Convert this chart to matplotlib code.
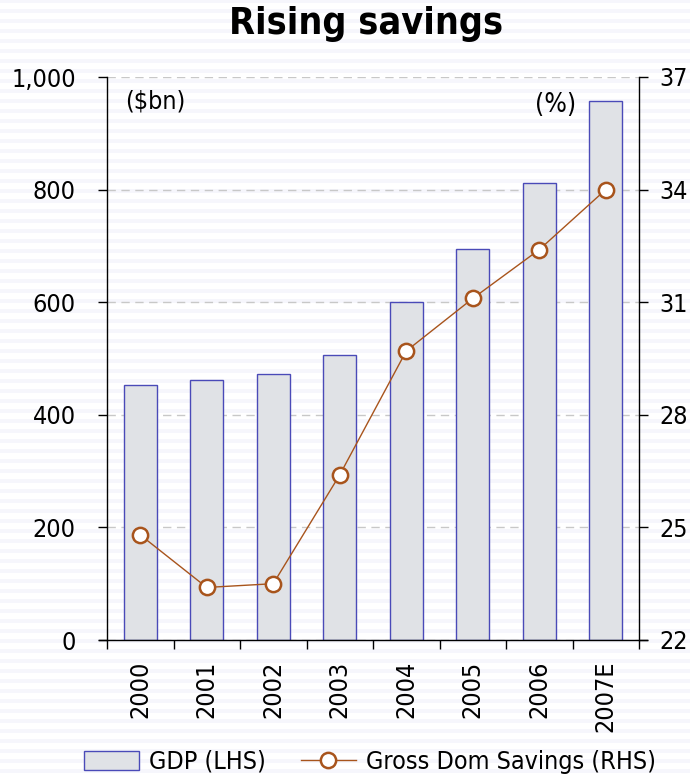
import matplotlib
matplotlib.use("Agg")
import matplotlib.pyplot as plt
import numpy as np
from matplotlib.lines import Line2D
from matplotlib.patches import Patch, Rectangle

plt.rcParams["font.family"] = ["DejaVu Sans"]
plt.rcParams["font.stretch"] = "condensed"

years = ["2000", "2001", "2002", "2003", "2004", "2005", "2006", "2007E"]
gdp = [453, 462, 473, 506, 601, 694, 811, 957]
savings = [24.8, 23.4, 23.5, 26.4, 29.7, 31.1, 32.4, 34.0]
left_ticks = [0, 200, 400, 600, 800, 1000]
right_ticks = [22, 25, 28, 31, 34, 37]

W, H = 690, 776
fig = plt.figure(figsize=(W / 100, H / 100), dpi=100)
fig.patch.set_facecolor("white")

# faint horizontal stripes in the background
for y0 in np.arange(0, H, 10):
    fig.patches.append(Rectangle((0, 1 - (y0 + 3) / H), 1, 4 / H,
                                 transform=fig.transFigure, facecolor="#f6f6fc",
                                 edgecolor="none", zorder=-10))

L, R, T, B = 107, 639, 77, 640
ax = fig.add_axes([L / W, 1 - B / H, (R - L) / W, (B - T) / H])
ax.set_facecolor("none")
x = np.arange(len(years))
ax.bar(x, gdp, width=0.49, color="#e0e2e6", edgecolor="#4a4ab8", linewidth=1.0, zorder=2)
ax.set_xlim(-0.5, len(years) - 0.5)
ax.set_ylim(0, 1000)
ax.set_yticks(left_ticks)
ax.set_yticklabels(["{:,}".format(v) for v in left_ticks])
ax.yaxis.grid(True, linestyle=(0, (6, 4)), color="#c8c8c8", linewidth=1.0, zorder=0)
ax.set_axisbelow(True)
ax.set_xticks(x)
ax.set_xticklabels(years, rotation=90)
ax.set_xticks(np.arange(len(years) + 1) - 0.5, minor=True)
ax.tick_params(axis="x", which="major", length=0, pad=15, labelsize=18)
ax.tick_params(axis="x", which="minor", length=6.5, width=1, direction="out")
ax.tick_params(axis="y", length=6.5, width=1, direction="out", labelsize=18, pad=16)
for s in ["top", "right"]:
    ax.spines[s].set_visible(False)
ax.spines["left"].set_linewidth(1)
ax.spines["bottom"].set_linewidth(1)
ax.spines["bottom"].set_bounds(-0.62, len(years) - 0.38)

ax2 = ax.twinx()
ax2.set_ylim(22, 37)
ax2.set_yticks(right_ticks)
ax2.plot(x, savings, color="#a8541c", linewidth=1.0, marker="o", markersize=11,
         markerfacecolor="white", markeredgecolor="#a8541c", markeredgewidth=1.8, zorder=5)
ax2.tick_params(axis="y", length=6.5, width=1, direction="out", labelsize=18, pad=8)
for s in ["top", "left", "bottom"]:
    ax2.spines[s].set_visible(False)
ax2.spines["right"].set_linewidth(1)

fig.text(125 / W, 1 - 102 / H, "($bn)", fontsize=18, va="center", ha="left")
fig.text(576 / W, 1 - 105 / H, "(%)", fontsize=19, va="center", ha="right")

fig.text(366 / W, 1 - 24 / H, "Rising savings", fontsize=27, fontweight="bold",
         ha="center", va="center")

handles = [Patch(facecolor="#e0e2e6", edgecolor="#4a4ab8", linewidth=1.0),
           Line2D([0], [0], color="#a8541c", linewidth=1.0, marker="o", markersize=11,
                  markerfacecolor="white", markeredgecolor="#a8541c", markeredgewidth=1.8)]
fig.legend(handles, ["GDP (LHS)", "Gross Dom Savings (RHS)"], loc="center",
           bbox_to_anchor=(370 / W, 1 - 762 / H), ncol=2, frameon=False, fontsize=18,
           handlelength=2.2, handleheight=0.8, columnspacing=1.4, handletextpad=0.4)

fig.savefig("out.png", dpi=100, facecolor=fig.get_facecolor())
